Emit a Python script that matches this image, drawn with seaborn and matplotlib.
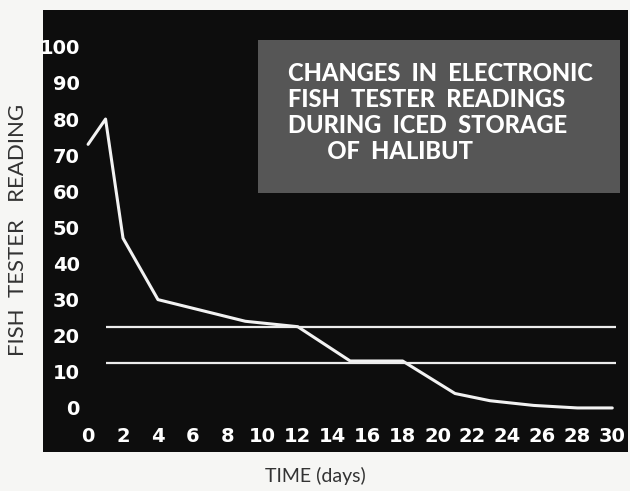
import matplotlib
matplotlib.use("Agg")
import matplotlib.pyplot as plt
import seaborn as sns
import pandas as pd
from matplotlib.patches import Rectangle

# values
days = [0, 1, 2, 4, 9, 12, 15, 18, 21, 23, 25.5, 28, 30]
readings = [73, 80, 47, 30, 24, 22.5, 13, 13, 4, 2, 0.7, 0, 0]
limit_levels = [22.5, 12.5]
limit_span = [1, 30.2]
x_ticks = list(range(0, 31, 2))
y_ticks = list(range(0, 101, 10))
title_lines = ["CHANGES  IN  ELECTRONIC", "FISH  TESTER  READINGS",
               "DURING  ICED  STORAGE", "       OF  HALIBUT"]

sns.set_style("white")
plt.rcParams['font.family'] = ['DejaVu Sans']

fig = plt.figure(figsize=(6.3, 4.91), dpi=100)
fig.patch.set_facecolor("#f6f6f4")
ax = fig.add_axes([43 / 630, 39 / 491, 585 / 630, 442 / 491])
ax.set_facecolor("#0d0d0d")

df = pd.DataFrame({"day": days, "reading": readings})
sns.lineplot(data=df, x="day", y="reading", ax=ax, color="#f2f2f2",
             linewidth=2.2, legend=False)
for lvl in limit_levels:
    ax.hlines(lvl, limit_span[0], limit_span[1], color="#ececec", linewidth=1.6)

ax.set_xlim(-2.58, 30.9)
ax.set_ylim(-12.2, 110.2)
ax.set_xticks(x_ticks)
ax.set_yticks(y_ticks)
ax.set_xticklabels([str(t) for t in x_ticks])
ax.set_yticklabels([str(t) for t in y_ticks])
ax.tick_params(axis="y", length=0, pad=-26.5, labelcolor="white", labelsize=14)
ax.tick_params(axis="x", length=0, pad=-18, labelcolor="white", labelsize=14)
for lab in ax.get_xticklabels() + ax.get_yticklabels():
    lab.set_fontweight("bold")
for s in ax.spines.values():
    s.set_visible(False)
ax.set_xlabel("")
ax.set_ylabel("")

# title box
ax.add_patch(Rectangle((0.368, 0.586), 0.618, 0.346, transform=ax.transAxes,
                       facecolor="#565656", edgecolor="none", zorder=1))
ax.text(0.679, 0.768, "\n".join(title_lines), transform=ax.transAxes,
        ha="center", va="center", multialignment="left", color="white",
        fontsize=17, fontweight="black", family=["Lato", "DejaVu Sans"],
        linespacing=1.15, zorder=2)

fig.text(18 / 630, 1 - 230 / 491, "FISH  TESTER   READING", rotation=90,
         ha="center", va="center", color="#333333", fontsize=16,
         family=["Lato", "DejaVu Sans"])
fig.text(315 / 630, 1 - 476 / 491, "TIME (days)", ha="center", va="center",
         color="#333333", fontsize=14, family=["Lato", "DejaVu Sans"])

fig.savefig("out.png", dpi=100)
